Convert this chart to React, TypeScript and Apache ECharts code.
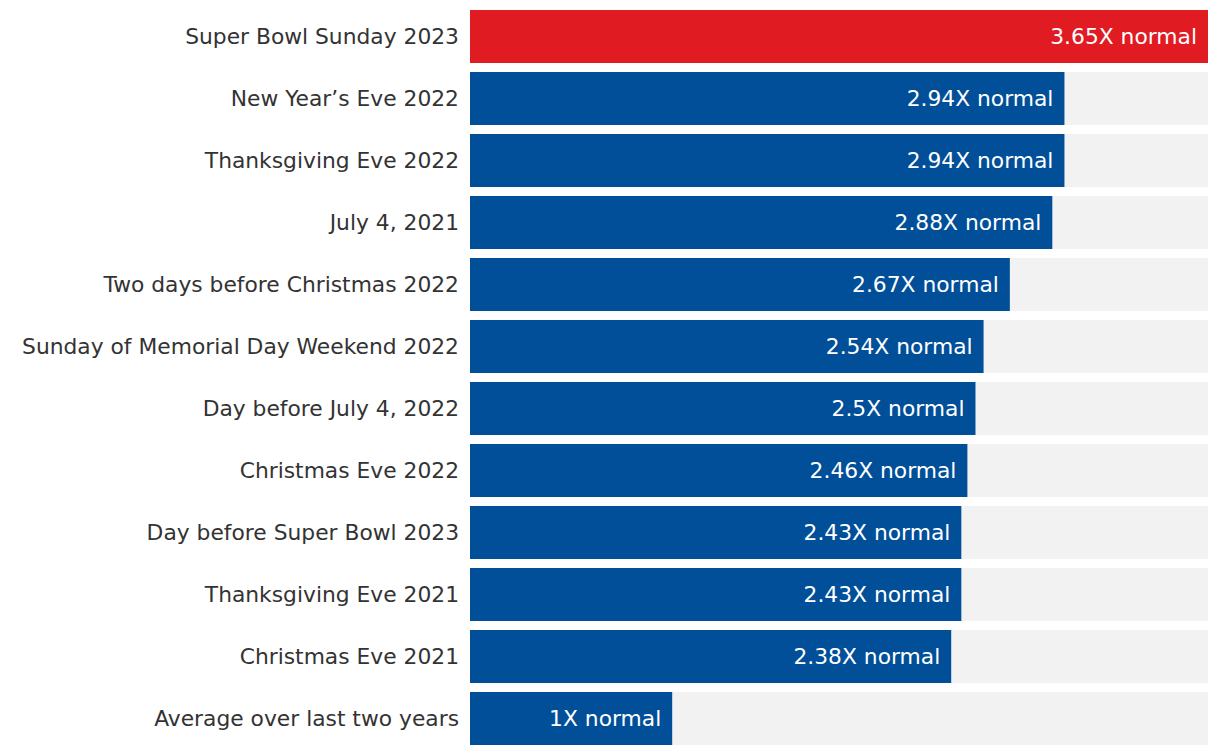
import React, { useEffect, useRef } from "react";
import * as echarts from "echarts";

const categories = [
  "Super Bowl Sunday 2023",
  "New Year\u2019s Eve 2022",
  "Thanksgiving Eve 2022",
  "July 4, 2021",
  "Two days before Christmas 2022",
  "Sunday of Memorial Day Weekend 2022",
  "Day before July 4, 2022",
  "Christmas Eve 2022",
  "Day before Super Bowl 2023",
  "Thanksgiving Eve 2021",
  "Christmas Eve 2021",
  "Average over last two years",
];
const values = [3.65, 2.94, 2.94, 2.88, 2.67, 2.54, 2.5, 2.46, 2.43, 2.43, 2.38, 1];
const labelSuffix = "X normal";

export default function App() {
  const ref = useRef<HTMLDivElement>(null);
  useEffect(() => {
    const chart = echarts.init(ref.current!, null, { renderer: "svg" });
    const font = "DejaVu Sans";
    chart.setOption({
      animation: false,
      grid: { left: 470, right: 12, top: 5.5, bottom: 6.5, containLabel: false },
      xAxis: {
        type: "value",
        min: 0,
        max: 3.65,
        show: false,
      },
      yAxis: {
        type: "category",
        data: categories,
        inverse: true,
        axisLine: { show: false },
        axisTick: { show: false },
        axisLabel: {
          color: "#333333",
          fontFamily: font,
          fontSize: 21.8,
          margin: 11,
        },
      },
      series: [
        {
          type: "bar",
          data: values.map((v, i) => ({
            value: v,
            itemStyle: { color: i === 0 ? "#e01b22" : "#004f98" },
          })),
          barWidth: 53,
          showBackground: true,
          backgroundStyle: { color: "#f2f2f2" },
          label: {
            show: true,
            position: "insideRight",
            distance: 11,
            color: "#ffffff",
            fontFamily: font,
            fontSize: 21.8,
            formatter: (p: any) => `${p.value}${labelSuffix}`,
          },
        },
      ],
    });
    return () => chart.dispose();
  }, []);
  return (
    <div
      ref={ref}
      style={{ position: "absolute", left: 0, top: 0, width: 1220, height: 756, background: "#fff" }}
    />
  );
}
